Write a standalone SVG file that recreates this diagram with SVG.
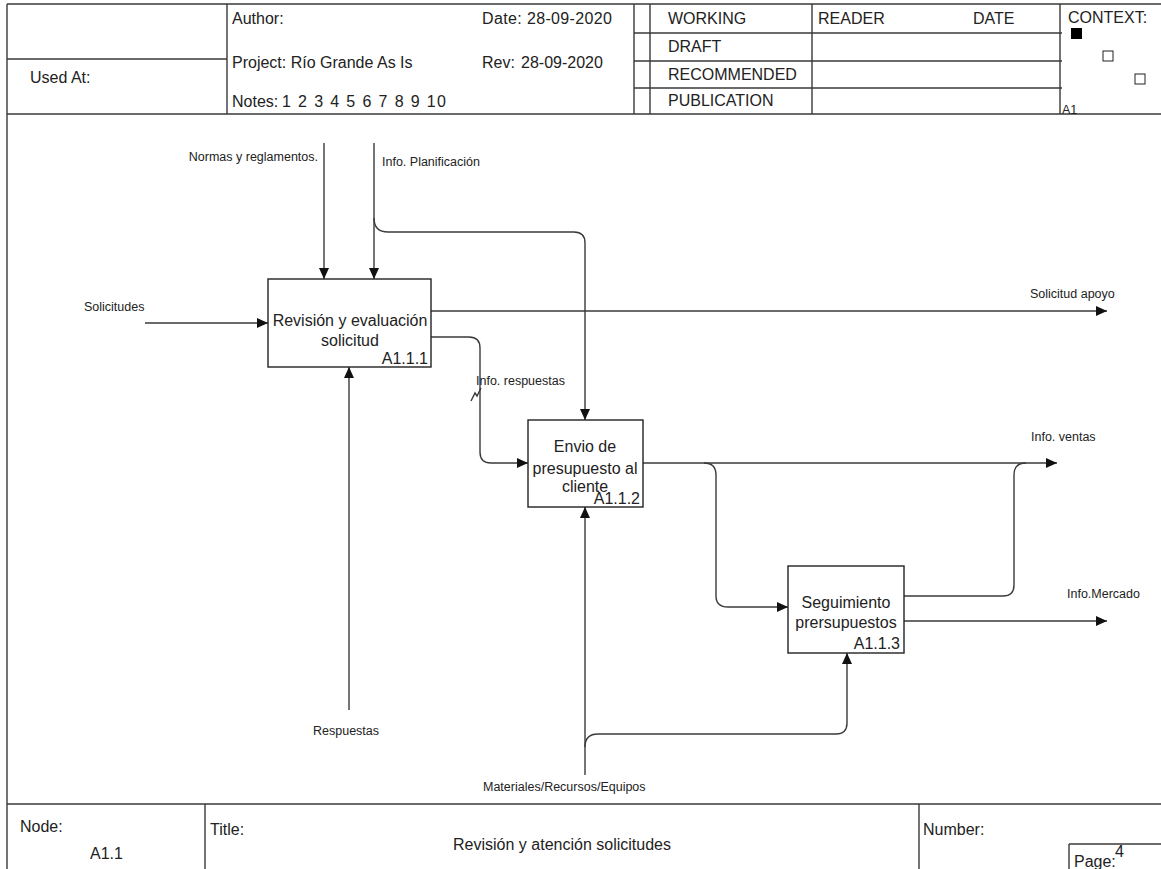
<svg xmlns="http://www.w3.org/2000/svg" width="1161" height="869" viewBox="0 0 1161 869">
<style>
.fr{fill:none;stroke:#3a3a3a;stroke-width:1.4}
.t{font-family:"Liberation Sans",Arial,sans-serif;fill:#222;font-size:16px}
.s{font-family:"Liberation Sans",Arial,sans-serif;fill:#222;font-size:12.5px}
.n{font-family:"Liberation Sans",Arial,sans-serif;fill:#222;font-size:16px}
.box{fill:#fff;stroke:#222;stroke-width:1.4}
.c{fill:none;stroke:#3a3a3a;stroke-width:1.4}
.m{font-family:"Liberation Sans",Arial,sans-serif;fill:#222;font-size:16px;text-anchor:middle}
</style>
<defs>
<marker id="ah" markerUnits="userSpaceOnUse" markerWidth="12" markerHeight="10" refX="11" refY="5" orient="auto">
<path d="M0,0 L11,5 L0,10 z" fill="#111"/>
</marker>
</defs>
<rect width="1161" height="869" fill="#fff"/>
<g id="frame">
<path class="fr" d="M7,4 H1161 M7,4 V869 M7,114 H1161 M7,59 H227 M227,4 V114 M634,4 V114 M650,4 V114 M812,4 V114 M1060,4 V114 M634,33 H1062 M634,61 H1062 M634,88 H1062 M7,804 H1161 M205,804 V869 M919,804 V869 M1069,844 H1161 M1069,844 V869"/>
<text class="t" x="30" y="83">Used At:</text>
<text class="t" x="232" y="24">Author:</text>
<text class="t" x="482" y="24" textLength="130">Date: 28-09-2020</text>
<text class="t" x="232" y="68">Project: Río Grande As Is</text>
<text class="t" x="482" y="68">Rev:</text>
<text class="t" x="521" y="68">28-09-2020</text>
<text class="t" x="232" y="107">Notes:</text>
<text class="t" x="282" y="107" textLength="164">1 2 3 4 5 6 7 8 9 10</text>
<text class="t" x="668" y="24">WORKING</text>
<text class="t" x="668" y="52">DRAFT</text>
<text class="t" x="668" y="80">RECOMMENDED</text>
<text class="t" x="668" y="106">PUBLICATION</text>
<text class="t" x="818" y="24">READER</text>
<text class="t" x="973" y="24">DATE</text>
<text class="t" x="1068" y="23">CONTEXT:</text>
<rect x="1071" y="28" width="11" height="11" fill="#000"/>
<rect x="1103" y="51" width="10" height="10" fill="#fff" stroke="#222" stroke-width="1"/>
<rect x="1135" y="74" width="10" height="10" fill="#fff" stroke="#222" stroke-width="1"/>
<text class="s" x="1062" y="114">A1</text>
<text class="t" x="20" y="832">Node:</text>
<text class="t" x="90" y="859">A1.1</text>
<text class="t" x="210" y="835">Title:</text>
<text class="m" x="562" y="850">Revisión y atención solicitudes</text>
<text class="t" x="923" y="835">Number:</text>
<text class="t" x="1074" y="867">Page:</text>
<text class="t" x="1115" y="857" font-size="14">4</text>
</g>
<g id="connectors">
<path class="c" d="M324,143 V279" marker-end="url(#ah)"/>
<path class="c" d="M374,143 V279" marker-end="url(#ah)"/>
<path class="c" d="M374,218 Q374,232 388,232 H574 Q585,232 585,243 V420" marker-end="url(#ah)"/>
<path class="c" d="M145,323 H268" marker-end="url(#ah)"/>
<path class="c" d="M431,311 H1107" marker-end="url(#ah)"/>
<path class="c" d="M431,337 H469 Q480,337 480,348 V452 Q480,463 491,463 H528" marker-end="url(#ah)"/>
<path class="c" d="M471,401 L475,393 L477,396 L481,388" stroke-width="1.2"/>
<path class="c" d="M349,710 V367" marker-end="url(#ah)"/>
<path class="c" d="M643,463 H1057" marker-end="url(#ah)"/>
<path class="c" d="M704,463 Q716,463 716,475 V596 Q716,607 728,607 H788" marker-end="url(#ah)"/>
<path class="c" d="M904,596 H1003 Q1014,596 1014,585 V475 Q1014,463 1026,463"/>
<path class="c" d="M904,621 H1107" marker-end="url(#ah)"/>
<path class="c" d="M585,775 V507" marker-end="url(#ah)"/>
<path class="c" d="M585,747 Q585,734 598,734 H836 Q847,734 847,723 V653" marker-end="url(#ah)"/>
<text class="s" x="318" y="161" text-anchor="end">Normas y reglamentos.</text>
<text class="s" x="382" y="166">Info. Planificación</text>
<text class="s" x="84" y="311">Solicitudes</text>
<text class="s" x="1030" y="298">Solicitud apoyo</text>
<text class="s" x="476" y="385">Info. respuestas</text>
<text class="s" x="313" y="735">Respuestas</text>
<text class="s" x="1031" y="441">Info. ventas</text>
<text class="s" x="1067" y="598">Info.Mercado</text>
<text class="s" x="483" y="791">Materiales/Recursos/Equipos</text>
</g>
<g id="A111">
<rect class="box" x="268" y="279" width="163" height="88"/>
<text class="m" x="350" y="326">Revisión y evaluación</text>
<text class="m" x="350" y="346">solicitud</text>
<text class="n" x="428" y="364" text-anchor="end">A1.1.1</text>
</g>
<g id="A112">
<rect class="box" x="528" y="420" width="115" height="87"/>
<text class="m" x="585" y="452">Envio de</text>
<text class="m" x="585" y="474">presupuesto al</text>
<text class="m" x="585" y="492">cliente</text>
<text class="n" x="640" y="504" text-anchor="end">A1.1.2</text>
</g>
<g id="A113">
<rect class="box" x="788" y="566" width="116" height="87"/>
<text class="m" x="846" y="608">Seguimiento</text>
<text class="m" x="846" y="628">prersupuestos</text>
<text class="n" x="900" y="649" text-anchor="end">A1.1.3</text>
</g>
</svg>
